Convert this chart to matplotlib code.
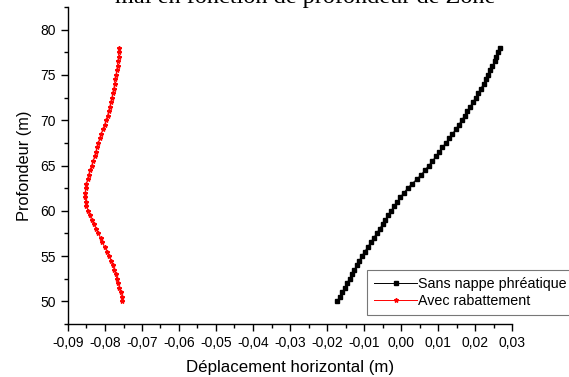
import matplotlib
matplotlib.use("Agg")
import matplotlib.pyplot as plt
from matplotlib.ticker import MultipleLocator, FuncFormatter

# profondeur (m)
depth = [50.0, 50.5, 51.0, 51.5, 52.0, 52.5, 53.0, 53.5, 54.0, 54.5,
         55.0, 55.5, 56.0, 56.5, 57.0, 57.5, 58.0, 58.5, 59.0, 59.5,
         60.0, 60.5, 61.0, 61.5, 62.0, 62.5, 63.0, 63.5, 64.0, 64.5,
         65.0, 65.5, 66.0, 66.5, 67.0, 67.5, 68.0, 68.5, 69.0, 69.5,
         70.0, 70.5, 71.0, 71.5, 72.0, 72.5, 73.0, 73.5, 74.0, 74.5,
         75.0, 75.5, 76.0, 76.5, 77.0, 77.5, 78.0]

# Sans nappe phreatique
sans_nappe = [-0.0173, -0.0166, -0.0159, -0.0152, -0.0146, -0.0139, -0.0133, -0.0126, -0.0120, -0.0113,
              -0.0106, -0.0098, -0.0090, -0.0082, -0.0074, -0.0066, -0.0058, -0.0050, -0.0043, -0.0035,
              -0.0027, -0.0019, -0.0010, -0.0002, 0.0008, 0.0018, 0.0030, 0.0043, 0.0055, 0.0065,
              0.0075, 0.0085, 0.0094, 0.0103, 0.0112, 0.0121, 0.0130, 0.0139, 0.0148, 0.0156,
              0.0164, 0.0172, 0.0179, 0.0187, 0.0194, 0.0202, 0.0209, 0.0216, 0.0223, 0.0229,
              0.0235, 0.0241, 0.0247, 0.0253, 0.0258, 0.0263, 0.0268]

# Avec rabattement
rabattement = [-0.0753, -0.0755, -0.0758, -0.0761, -0.0764, -0.0768, -0.0771, -0.0775, -0.0779, -0.0784,
               -0.0789, -0.0795, -0.0801, -0.0807, -0.0812, -0.0818, -0.0824, -0.0830, -0.0836, -0.0841,
               -0.0846, -0.0850, -0.0852, -0.0853, -0.0853, -0.0852, -0.0850, -0.0847, -0.0844, -0.0840,
               -0.0836, -0.0832, -0.0828, -0.0825, -0.0821, -0.0818, -0.0814, -0.0810, -0.0806, -0.0801,
               -0.0797, -0.0793, -0.0790, -0.0787, -0.0784, -0.0781, -0.0779, -0.0776, -0.0774, -0.0772,
               -0.0770, -0.0768, -0.0766, -0.0765, -0.0763, -0.0762, -0.0761]

plt.rcParams["font.family"] = ["Liberation Sans", "DejaVu Sans"]

fig = plt.figure(figsize=(5.69, 3.77), dpi=100)
ax = fig.add_axes([68 / 569, 1 - 324 / 377, 444 / 569, 317 / 377])

ax.plot(sans_nappe, depth, color="black", lw=0.7, marker="s", ms=2.2,
        label="Sans nappe phréatique")
ax.plot(rabattement, depth, color="red", lw=0.7, marker="*", ms=3.2,
        label="Avec rabattement")

ax.set_xlim(-0.09, 0.03)
ax.set_ylim(47.5, 82.5)
ax.xaxis.set_major_locator(MultipleLocator(0.01))
ax.xaxis.set_minor_locator(MultipleLocator(0.005))
ax.yaxis.set_major_locator(MultipleLocator(5))
ax.yaxis.set_minor_locator(MultipleLocator(2.5))
ax.xaxis.set_major_formatter(FuncFormatter(lambda v, p: f"{v:.2f}".replace(".", ",").replace("-0,00", "0,00")))

for side in ["top", "right"]:
    ax.spines[side].set_visible(False)
ax.spines["left"].set_linewidth(1.0)
ax.spines["bottom"].set_linewidth(1.0)
ax.tick_params(which="major", direction="out", length=5, width=1.0, labelsize=10)
ax.tick_params(which="minor", direction="out", length=3, width=1.0)
ax.tick_params(axis="x", pad=3.5)
ax.tick_params(axis="y", pad=3.5)

ax.set_xlabel("Déplacement horizontal (m)", fontsize=12.2, labelpad=7.5)
ax.set_ylabel("Profondeur (m)", fontsize=11.8, labelpad=6)

leg = ax.legend(loc="upper left", bbox_to_anchor=(367 / 569, 1 - 270 / 377),
                bbox_transform=fig.transFigure, fontsize=10.3, frameon=True,
                fancybox=False, handlelength=3.0, handletextpad=0.05,
                borderpad=0.5, labelspacing=0.2, borderaxespad=0)
leg.get_frame().set_edgecolor("#555555")
leg.get_frame().set_linewidth(0.8)

fig.text(305 / 569, 1 - 3 / 377, "mal en fonction de profondeur de Zone",
         ha="center", va="baseline", fontsize=17.5, family="Liberation Serif")

fig.savefig("out.png", dpi=100)
